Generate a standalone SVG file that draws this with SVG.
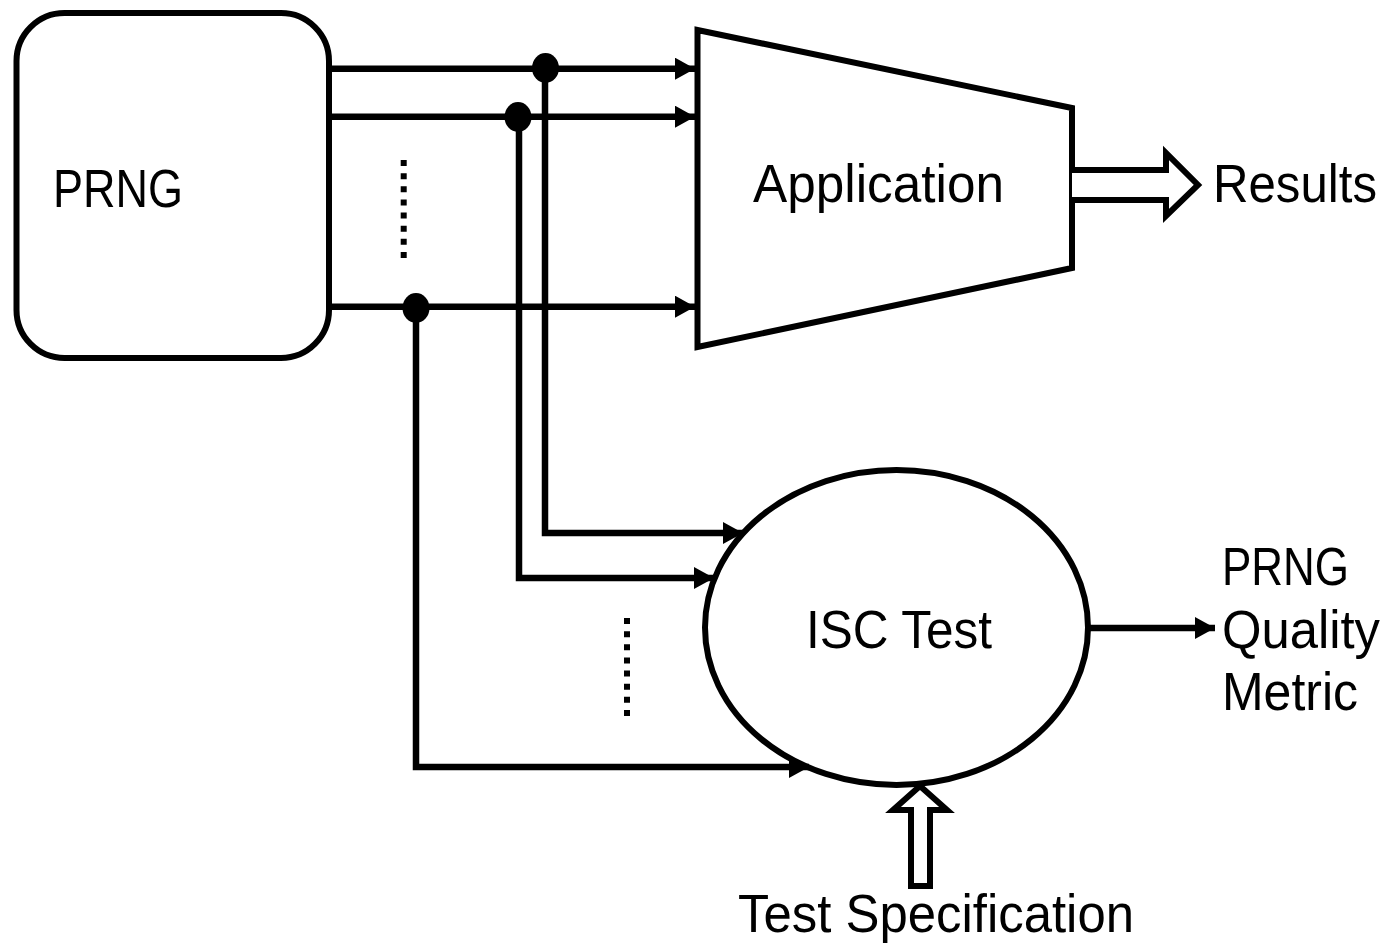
<svg xmlns="http://www.w3.org/2000/svg" width="1387" height="943" viewBox="0 0 1387 943">
<style>
.shape{fill:#fff;stroke:#000;stroke-width:6;stroke-linejoin:miter}
.wire{fill:none;stroke:#000;stroke-width:6.5}
.dots{fill:none;stroke:#000;stroke-width:6;stroke-dasharray:6 7.14}
.lbl{font-family:"Liberation Sans",Arial,sans-serif;font-size:53px;fill:#000}
</style>
<defs>
<marker id="ah" markerUnits="userSpaceOnUse" markerWidth="20" markerHeight="22" viewBox="0 0 20 22" refX="20" refY="11" orient="auto">
<path d="M0,0 L20,11 L0,22 Z" fill="#000"/>
</marker>
</defs>
<g id="prng">
<rect class="shape" x="16.5" y="13" width="312.5" height="345" rx="48" ry="48"/>
<text class="lbl" x="53" y="207" font-size="47" textLength="130" lengthAdjust="spacingAndGlyphs">PRNG</text>
</g>
<g id="application">
<polygon class="shape" points="697.5,30 1072,108 1072,268 697.5,347"/>
<text class="lbl" x="753" y="202" font-size="55" textLength="251" lengthAdjust="spacingAndGlyphs">Application</text>
</g>
<g id="isc">
<ellipse class="shape" cx="896.5" cy="627.5" rx="191.5" ry="157.5" stroke-width="5"/>
<text class="lbl" x="806" y="648" textLength="186" lengthAdjust="spacingAndGlyphs">ISC Test</text>
</g>
<g id="results">
<text class="lbl" x="1213" y="202" font-size="54" textLength="164" lengthAdjust="spacingAndGlyphs">Results</text>
</g>
<g id="metric">
<text class="lbl" x="1222" y="585" textLength="127" lengthAdjust="spacingAndGlyphs">PRNG</text>
<text class="lbl" x="1222" y="648" textLength="158" lengthAdjust="spacingAndGlyphs">Quality</text>
<text class="lbl" x="1222" y="710" textLength="136" lengthAdjust="spacingAndGlyphs">Metric</text>
</g>
<g id="testspec">
<text class="lbl" x="738" y="932" textLength="396" lengthAdjust="spacingAndGlyphs">Test Specification</text>
</g>
<g id="connectors">
<line class="wire" x1="329" y1="68.7" x2="695" y2="68.7" marker-end="url(#ah)"/>
<line class="wire" x1="329" y1="116.7" x2="695" y2="116.7" marker-end="url(#ah)"/>
<line class="wire" x1="329" y1="306.7" x2="695" y2="306.7" marker-end="url(#ah)"/>
<polyline class="wire" points="545,68.7 545,533 743,533" marker-end="url(#ah)"/>
<polyline class="wire" points="519,116.7 519,578 714,578" marker-end="url(#ah)"/>
<polyline class="wire" points="416,306.7 416,767 809,767" marker-end="url(#ah)"/>
<ellipse cx="545.5" cy="68" rx="13.5" ry="15" fill="#000"/>
<ellipse cx="518" cy="117" rx="13.5" ry="15" fill="#000"/>
<ellipse cx="416" cy="308" rx="13.5" ry="15" fill="#000"/>
<line class="dots" x1="403.7" y1="160" x2="403.7" y2="258"/>
<line class="dots" x1="627" y1="618" x2="627" y2="716"/>
<line class="wire" x1="1088" y1="628" x2="1215" y2="628" marker-end="url(#ah)"/>
<polyline class="shape" points="1072,170 1166,170 1166,153 1198,185 1166,216 1166,200 1072,200"/>
<polygon class="shape" points="911,886 911,810 893,810 920,786 947,810 930,810 930,886"/>
</g>
</svg>
